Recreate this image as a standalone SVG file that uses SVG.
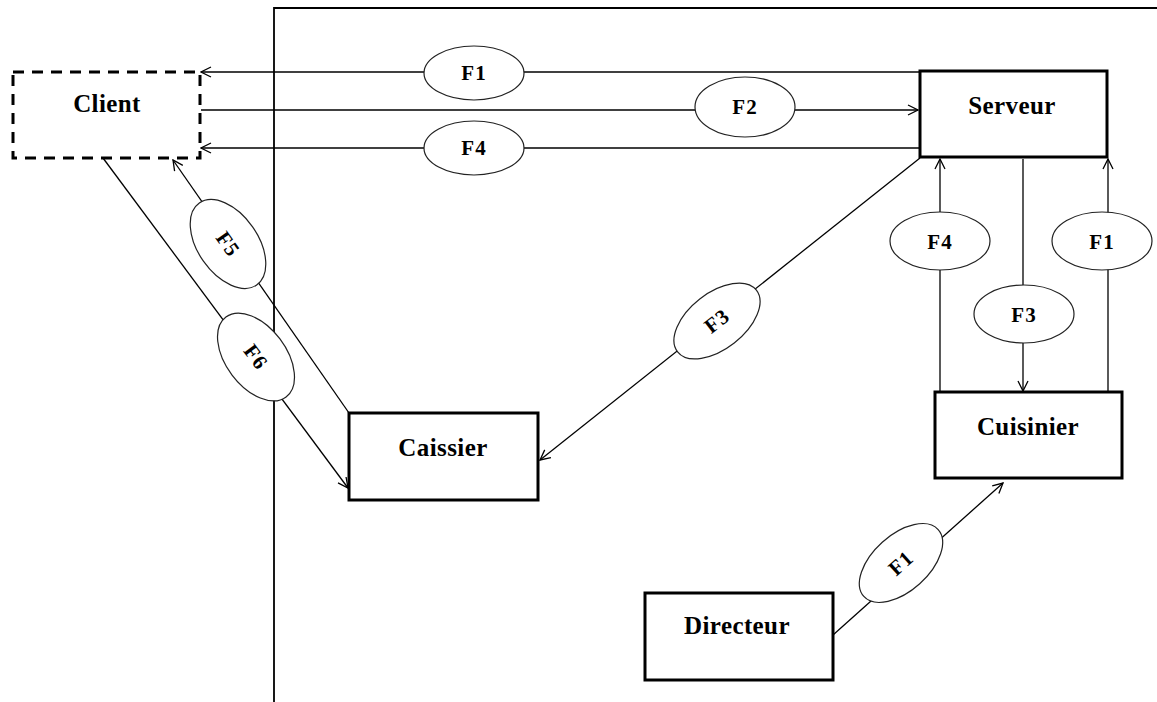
<svg xmlns="http://www.w3.org/2000/svg" width="1157" height="702" viewBox="0 0 1157 702">
  <style>
    .box { fill: #ffffff; stroke: #000000; stroke-width: 3; }
    .dashed { stroke-dasharray: 11 8; }
    .name { font-family: "Liberation Serif", "Times New Roman", serif; font-weight: bold; font-size: 25px; letter-spacing: 0.4px; fill: #000000; text-anchor: middle; }
    .flow { stroke: #000000; stroke-width: 1.3; fill: none; }
    .tag { fill: #ffffff; stroke: #222222; stroke-width: 1.2; }
    .tagtext { font-family: "Liberation Serif", "Times New Roman", serif; font-weight: bold; font-size: 21px; letter-spacing: 1px; fill: #000000; text-anchor: middle; }
    .frame { stroke: #000000; stroke-width: 1.8; fill: none; }
  </style>
  <defs>
    <marker id="arrow" viewBox="0 0 12 12" refX="11" refY="6" markerWidth="12" markerHeight="12" markerUnits="userSpaceOnUse" orient="auto">
      <path d="M1,1 L11,6 L1,11" fill="none" stroke="#000000" stroke-width="1.3"/>
    </marker>
  </defs>

  <rect width="1157" height="702" fill="#ffffff"/>

  <!-- system boundary -->
  <path class="frame" d="M274,702 L274,8 L1157,8"/>

  <!-- flows between actors -->
  <g id="connectors">
    <line class="flow" x1="920" y1="72" x2="201" y2="72" marker-end="url(#arrow)"/>
    <line class="flow" x1="201" y1="110" x2="918" y2="110" marker-end="url(#arrow)"/>
    <line class="flow" x1="920" y1="148" x2="201" y2="148" marker-end="url(#arrow)"/>
    <line class="flow" x1="920" y1="158" x2="540" y2="460" marker-end="url(#arrow)"/>
    <line class="flow" x1="940" y1="392" x2="940" y2="159" marker-end="url(#arrow)"/>
    <line class="flow" x1="1023" y1="159" x2="1023" y2="391" marker-end="url(#arrow)"/>
    <line class="flow" x1="1108" y1="392" x2="1108" y2="159" marker-end="url(#arrow)"/>
    <line class="flow" x1="349" y1="413" x2="173" y2="160" marker-end="url(#arrow)"/>
    <line class="flow" x1="103" y1="158" x2="348" y2="488" marker-end="url(#arrow)"/>
    <line class="flow" x1="833" y1="635" x2="1003" y2="483" marker-end="url(#arrow)"/>

    <!-- flow labels -->
    <g id="f1-serveur-client">
      <ellipse class="tag" cx="474" cy="73" rx="50" ry="27"/>
      <text class="tagtext" x="474" y="80">F1</text>
    </g>
    <g id="f2-client-serveur">
      <ellipse class="tag" cx="745" cy="107" rx="50" ry="30"/>
      <text class="tagtext" x="745" y="114">F2</text>
    </g>
    <g id="f4-serveur-client">
      <ellipse class="tag" cx="474" cy="148" rx="50" ry="27"/>
      <text class="tagtext" x="474" y="155">F4</text>
    </g>
    <g id="f4-cuisinier-serveur">
      <ellipse class="tag" cx="940" cy="241" rx="50" ry="29"/>
      <text class="tagtext" x="940" y="249">F4</text>
    </g>
    <g id="f1-cuisinier-serveur">
      <ellipse class="tag" cx="1102" cy="241" rx="50" ry="29"/>
      <text class="tagtext" x="1102" y="249">F1</text>
    </g>
    <g id="f3-serveur-cuisinier">
      <ellipse class="tag" cx="1024" cy="314" rx="50" ry="29"/>
      <text class="tagtext" x="1024" y="322">F3</text>
    </g>
    <g id="f3-serveur-caissier" transform="translate(717,321) rotate(-38)">
      <ellipse class="tag" cx="0" cy="0" rx="50" ry="28"/>
      <text class="tagtext" x="0" y="7">F3</text>
    </g>
    <g id="f1-directeur-cuisinier" transform="translate(901,563) rotate(-42)">
      <ellipse class="tag" cx="0" cy="0" rx="50" ry="28"/>
      <text class="tagtext" x="0" y="7">F1</text>
    </g>
    <g id="f5-caissier-client" transform="translate(228,244) rotate(55)">
      <ellipse class="tag" cx="0" cy="0" rx="50" ry="30"/>
      <text class="tagtext" x="0" y="7">F5</text>
    </g>
    <g id="f6-client-caissier" transform="translate(256,357) rotate(53)">
      <ellipse class="tag" cx="0" cy="0" rx="50" ry="30"/>
      <text class="tagtext" x="0" y="7">F6</text>
    </g>
  </g>

  <!-- actors -->
  <g id="client">
    <rect class="box dashed" x="13" y="72" width="187" height="86" fill="none" style="fill:none"/>
    <text class="name" x="107" y="112">Client</text>
  </g>
  <g id="serveur">
    <rect class="box" x="920" y="71" width="187" height="86"/>
    <text class="name" x="1012" y="114">Serveur</text>
  </g>
  <g id="cuisinier">
    <rect class="box" x="935" y="392" width="187" height="86"/>
    <text class="name" x="1028" y="435">Cuisinier</text>
  </g>
  <g id="caissier">
    <rect class="box" x="349" y="413" width="189" height="87"/>
    <text class="name" x="443" y="456">Caissier</text>
  </g>
  <g id="directeur">
    <rect class="box" x="645" y="593" width="188" height="87"/>
    <text class="name" x="737" y="634">Directeur</text>
  </g>
</svg>
